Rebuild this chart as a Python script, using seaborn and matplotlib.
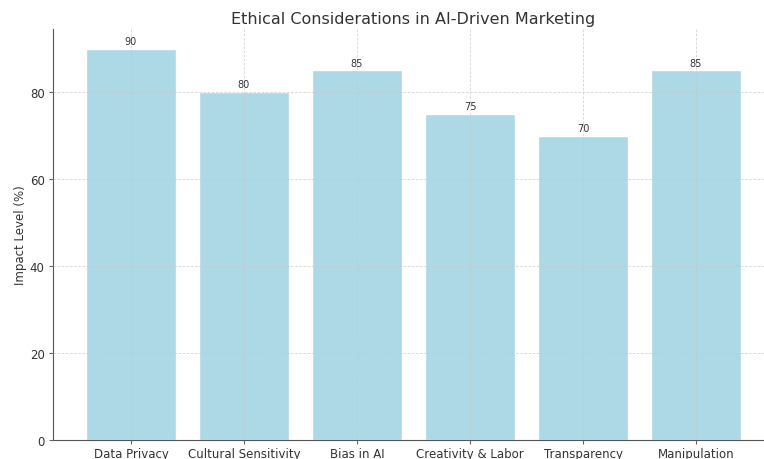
import pandas as pd
import seaborn as sns
import matplotlib.pyplot as plt

categories = ['Data Privacy', 'Cultural Sensitivity', 'Bias in AI',
              'Creativity & Labor', 'Transparency', 'Manipulation']
impact = [90, 80, 85, 75, 70, 85]

df = pd.DataFrame({'category': categories, 'impact': impact})

sns.set_style('ticks')
fig = plt.figure(figsize=(7.64, 4.6), dpi=100)
ax = fig.add_axes([53 / 764, 19 / 460, 721 / 764, 411 / 460])

sns.barplot(x='category', y='impact', data=df, color='lightblue',
            saturation=1, width=0.8, ax=ax)
ax.set_xlim(-0.69, 5.69)
ax.set_ylim(0, 94.5)

# value labels on top of bars
for i, v in enumerate(impact):
    ax.text(i, v + 0.6, str(v), ha='center', va='bottom', fontsize=7, color='#333333')

ax.grid(True, linestyle=(0, (3, 2)), color='#c8c8c8', linewidth=0.6, alpha=0.8)
ax.set_axisbelow(False)
ax.set_xlabel('')
ax.set_ylabel('Impact Level (%)', fontsize=8.5, color='#333333', labelpad=2)
ax.set_yticks([0, 20, 40, 60, 80])
ax.tick_params(labelsize=8.5, colors='#333333', length=3, pad=2)
ax.tick_params(axis='y', pad=3)
ax.tick_params(color='#666666')
for s in ['top', 'right']:
    ax.spines[s].set_visible(False)
for s in ['left', 'bottom']:
    ax.spines[s].set_color('#555555')
ax.set_title('Ethical Considerations in AI-Driven Marketing', fontsize=11.5,
             color='#333333', pad=4)

plt.savefig('out.png', dpi=100)
